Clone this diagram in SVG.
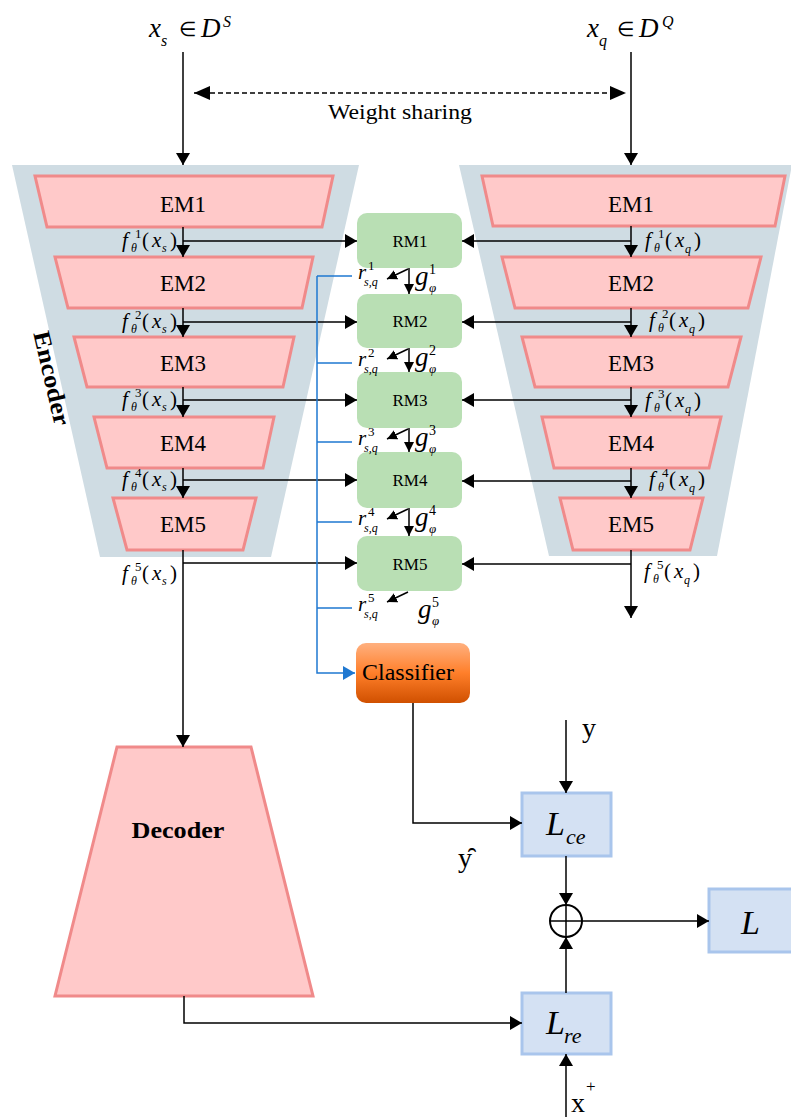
<svg xmlns="http://www.w3.org/2000/svg" width="791" height="1117" viewBox="0 0 791 1117">
<style>
text{font-family:"Liberation Serif","Times New Roman",serif;fill:#000}
.mi{font-style:italic;font-size:21px}
.mr{font-size:21px}
.sup{font-size:13px}
.subi{font-style:italic;font-size:12px}
.ti{font-style:italic;font-size:27px}
.tsub{font-style:italic;font-size:16px}
.tin{font-size:20px}
.em{font-size:23px;text-anchor:middle}
.rm{font-size:17px;text-anchor:middle}
.emb{fill:#FFC9C9;stroke:#F08A8A;stroke-width:3}
.gray{fill:#CFDCE3}
.rmb{fill:#B9DFB4}
.loss{fill:#D4E1F3;stroke:#A9C5EC;stroke-width:3}
.ln{fill:none;stroke:#000;stroke-width:1.5}
.ar{marker-end:url(#ah)}
.sa{fill:none;stroke:#000;stroke-width:1.5;marker-end:url(#ahs)}
.bl{fill:none;stroke:#1F78D1;stroke-width:1.5}
.ri{font-style:italic;font-size:21px}
.rsup{font-size:13px}
.rsub{font-style:italic;font-size:12px}
.gi{font-style:italic;font-size:27px}
.gsup{font-size:14px}
.gsub{font-style:italic;font-size:13px}
.li{font-style:italic;font-size:34px}
.lsub{font-style:italic;font-size:22px}
.big{font-size:28px}
</style>
<defs>
<marker id="ah" viewBox="0 0 12 14" refX="12" refY="7" markerWidth="12" markerHeight="14" markerUnits="userSpaceOnUse" orient="auto"><path d="M0,0L12,7L0,14z" fill="#000"/></marker>
<marker id="ahd" viewBox="0 0 16 14" refX="16" refY="7" markerWidth="16" markerHeight="14" markerUnits="userSpaceOnUse" orient="auto-start-reverse"><path d="M0,0L16,7L0,14z" fill="#000"/></marker>
<marker id="ahs" viewBox="0 0 10 10" refX="10" refY="5" markerWidth="10" markerHeight="10" markerUnits="userSpaceOnUse" orient="auto"><path d="M0,0L10,5L0,10z" fill="#000"/></marker>
<marker id="ahb" viewBox="0 0 12 14" refX="12" refY="7" markerWidth="12" markerHeight="14" markerUnits="userSpaceOnUse" orient="auto"><path d="M0,0L12,7L0,14z" fill="#1F78D1"/></marker>
<linearGradient id="cg" x1="0" y1="0" x2="0" y2="1">
<stop offset="0" stop-color="#FFB07F"/><stop offset="0.5" stop-color="#FF7F2A"/><stop offset="1" stop-color="#D05000"/>
</linearGradient>
</defs>

<!-- encoder backgrounds -->
<g id="encoder-left">
<polygon class="gray" points="12,165 359,165 271,557 100,557"/>
<text font-weight="bold" font-size="24" text-anchor="middle" textLength="96" lengthAdjust="spacingAndGlyphs" transform="translate(44,380) rotate(77)">Encoder</text>
</g>
<g id="encoder-right">
<polygon class="gray" points="459,165 791,165 791,170 717,556 549,556"/>
</g>

<!-- top labels -->
<g id="input-s">
<text class="ti" x="149" y="37">x</text>
<text class="tsub" x="161" y="46">s</text>
<text class="tin" x="179" y="36">∈</text>
<text class="ti" x="201" y="37">D</text>
<text class="tsub" x="223" y="27">S</text>
</g>
<g id="input-q">
<text class="ti" x="587" y="37">x</text>
<text class="tsub" x="599" y="46">q</text>
<text class="tin" x="617" y="36">∈</text>
<text class="ti" x="639" y="37">D</text>
<text class="tsub" x="662" y="27">Q</text>
</g>
<g id="weight-sharing">
<text x="400" y="119" font-size="22" text-anchor="middle" textLength="144" lengthAdjust="spacingAndGlyphs">Weight sharing</text>
</g>

<!-- left EMs -->
<g id="EM1-s"><polygon class="emb" points="35,176 333,176 322,227 47,227"/><text class="em" x="183" y="212">EM1</text></g>
<g id="EM2-s"><polygon class="emb" points="55,257 313,257 302,308 68,308"/><text class="em" x="183" y="291">EM2</text></g>
<g id="EM3-s"><polygon class="emb" points="74,337 294,337 283,387 87,387"/><text class="em" x="183" y="371">EM3</text></g>
<g id="EM4-s"><polygon class="emb" points="94,417 274,417 263,468 107,468"/><text class="em" x="183" y="451">EM4</text></g>
<g id="EM5-s"><polygon class="emb" points="113,498 256,498 243,550 127,550"/><text class="em" x="183" y="532">EM5</text></g>

<!-- right EMs -->
<g id="EM1-q"><polygon class="emb" points="482,176 785,176 775,226 493,226"/><text class="em" x="631" y="212">EM1</text></g>
<g id="EM2-q"><polygon class="emb" points="502,257 761,257 748,308 515,308"/><text class="em" x="631" y="291">EM2</text></g>
<g id="EM3-q"><polygon class="emb" points="522,337 741,337 728,387 535,387"/><text class="em" x="631" y="371">EM3</text></g>
<g id="EM4-q"><polygon class="emb" points="542,417 721,417 709,468 554,468"/><text class="em" x="631" y="451">EM4</text></g>
<g id="EM5-q"><polygon class="emb" points="560,498 703,498 690,550 573,550"/><text class="em" x="631" y="532">EM5</text></g>

<!-- RMs -->
<g id="RM1"><rect class="rmb" x="357" y="213" width="105" height="55" rx="10"/><text class="rm" x="410" y="247">RM1</text></g>
<g id="RM2"><rect class="rmb" x="357" y="294" width="105" height="54" rx="10"/><text class="rm" x="410" y="327">RM2</text></g>
<g id="RM3"><rect class="rmb" x="357" y="372" width="105" height="56" rx="10"/><text class="rm" x="410" y="406">RM3</text></g>
<g id="RM4"><rect class="rmb" x="357" y="452" width="105" height="56" rx="10"/><text class="rm" x="410" y="486">RM4</text></g>
<g id="RM5"><rect class="rmb" x="357" y="536" width="105" height="55" rx="10"/><text class="rm" x="410" y="570">RM5</text></g>

<!-- Classifier -->
<g id="classifier"><rect x="356" y="643" width="114" height="60" rx="10" fill="url(#cg)"/><text x="408" y="680" font-size="24" text-anchor="middle" textLength="92" lengthAdjust="spacingAndGlyphs">Classifier</text></g>

<!-- Decoder -->
<g id="decoder"><polygon class="emb" points="117,747 251,747 313,996 55,996"/><text x="178" y="838" font-size="23" font-weight="bold" text-anchor="middle" textLength="93" lengthAdjust="spacingAndGlyphs">Decoder</text></g>

<!-- Loss boxes -->
<g id="Lce"><rect class="loss" x="522" y="793" width="89" height="63"/><text class="li" x="546" y="835">L</text><text class="lsub" x="566" y="844">ce</text></g>
<g id="Lre"><rect class="loss" x="522" y="993" width="89" height="61"/><text class="li" x="546" y="1034">L</text><text class="lsub" x="564" y="1043">re</text></g>
<g id="L"><rect class="loss" x="709" y="889" width="84" height="63"/><text class="li" x="741" y="934">L</text></g>
<g id="sum"><circle cx="566" cy="921" r="16" fill="none" stroke="#000" stroke-width="2"/><path d="M550,921H582M566,905V937" stroke="#000" stroke-width="1.5"/></g>

<!-- connectors -->
<g id="connectors">
<path class="ln ar" d="M183,52V165"/>
<path class="ln ar" d="M631,52V165"/>
<path d="M194,93H626" fill="none" stroke="#000" stroke-width="1.3" stroke-dasharray="5,3" marker-start="url(#ahd)" marker-end="url(#ahd)"/>
<path class="ln ar" d="M183,227V257"/>
<path class="ln ar" d="M183,308V337"/>
<path class="ln ar" d="M183,387V417"/>
<path class="ln ar" d="M183,468V498"/>
<path class="ln ar" d="M183,550V747"/>
<path class="ln ar" d="M183,241H357"/>
<path class="ln ar" d="M183,322H357"/>
<path class="ln ar" d="M183,400H357"/>
<path class="ln ar" d="M183,480H357"/>
<path class="ln ar" d="M183,563H357"/>
<path class="ln ar" d="M631,226V257"/>
<path class="ln ar" d="M631,308V337"/>
<path class="ln ar" d="M631,387V417"/>
<path class="ln ar" d="M631,468V498"/>
<path class="ln ar" d="M631,550V618"/>
<path class="ln ar" d="M631,241H462"/>
<path class="ln ar" d="M631,322H462"/>
<path class="ln ar" d="M631,400H462"/>
<path class="ln ar" d="M631,481H462"/>
<path class="ln ar" d="M631,564H462"/>
<path class="sa" d="M408,269L387,279"/>
<path class="sa" d="M409,268V294"/>
<path class="sa" d="M408,349L387,359"/>
<path class="sa" d="M409,348V372"/>
<path class="sa" d="M408,429L387,439"/>
<path class="sa" d="M409,428V452"/>
<path class="sa" d="M408,509L387,519"/>
<path class="sa" d="M409,508V536"/>
<path class="sa" d="M408,592L387,602"/>
<path class="bl" d="M352,276H317M352,363H317M352,442H317M352,522H317M352,608H317"/>
<path class="bl" d="M317,276V673H355" marker-end="url(#ahb)"/>
<path class="ln ar" d="M413,703V823H522"/>
<path class="ln ar" d="M566,720V793"/>
<path class="ln ar" d="M566,856V905"/>
<path class="ln ar" d="M566,993V937"/>
<path class="ln ar" d="M582,921H709"/>
<path class="ln ar" d="M184,996V1023H522"/>
<path class="ln ar" d="M566,1117V1054"/>
</g>

<!-- feature labels left -->
<g id="f-labels-s">
<g transform="translate(122,247)"><text class="mi">f</text><text class="sup" x="13" y="-9">1</text><text class="subi" x="9" y="5">θ</text><text class="mr" x="20">(</text><text class="mi" x="30">x</text><text class="subi" x="40" y="5">s</text><text class="mr" x="48">)</text></g>
<g transform="translate(122,328)"><text class="mi">f</text><text class="sup" x="13" y="-9">2</text><text class="subi" x="9" y="5">θ</text><text class="mr" x="20">(</text><text class="mi" x="30">x</text><text class="subi" x="40" y="5">s</text><text class="mr" x="48">)</text></g>
<g transform="translate(122,406)"><text class="mi">f</text><text class="sup" x="13" y="-9">3</text><text class="subi" x="9" y="5">θ</text><text class="mr" x="20">(</text><text class="mi" x="30">x</text><text class="subi" x="40" y="5">s</text><text class="mr" x="48">)</text></g>
<g transform="translate(122,486)"><text class="mi">f</text><text class="sup" x="13" y="-9">4</text><text class="subi" x="9" y="5">θ</text><text class="mr" x="20">(</text><text class="mi" x="30">x</text><text class="subi" x="40" y="5">s</text><text class="mr" x="48">)</text></g>
<g transform="translate(122,580)"><text class="mi">f</text><text class="sup" x="13" y="-9">5</text><text class="subi" x="9" y="5">θ</text><text class="mr" x="20">(</text><text class="mi" x="30">x</text><text class="subi" x="40" y="5">s</text><text class="mr" x="48">)</text></g>
</g>
<!-- feature labels right -->
<g id="f-labels-q">
<g transform="translate(645,247)"><text class="mi">f</text><text class="sup" x="13" y="-9">1</text><text class="subi" x="9" y="5">θ</text><text class="mr" x="20">(</text><text class="mi" x="30">x</text><text class="subi" x="40" y="6">q</text><text class="mr" x="49">)</text></g>
<g transform="translate(649,327)"><text class="mi">f</text><text class="sup" x="13" y="-9">2</text><text class="subi" x="9" y="5">θ</text><text class="mr" x="20">(</text><text class="mi" x="30">x</text><text class="subi" x="40" y="6">q</text><text class="mr" x="49">)</text></g>
<g transform="translate(645,407)"><text class="mi">f</text><text class="sup" x="13" y="-9">3</text><text class="subi" x="9" y="5">θ</text><text class="mr" x="20">(</text><text class="mi" x="30">x</text><text class="subi" x="40" y="6">q</text><text class="mr" x="49">)</text></g>
<g transform="translate(649,486)"><text class="mi">f</text><text class="sup" x="13" y="-9">4</text><text class="subi" x="9" y="5">θ</text><text class="mr" x="20">(</text><text class="mi" x="30">x</text><text class="subi" x="40" y="6">q</text><text class="mr" x="49">)</text></g>
<g transform="translate(644,578)"><text class="mi">f</text><text class="sup" x="13" y="-9">5</text><text class="subi" x="9" y="5">θ</text><text class="mr" x="20">(</text><text class="mi" x="30">x</text><text class="subi" x="40" y="6">q</text><text class="mr" x="49">)</text></g>
</g>
<!-- r and g labels -->
<g id="rg-labels">
<g transform="translate(358,279)"><text class="ri">r</text><text class="rsup" x="10" y="-9">1</text><text class="rsub" x="6" y="7">s,q</text></g>
<g transform="translate(358,366)"><text class="ri">r</text><text class="rsup" x="10" y="-9">2</text><text class="rsub" x="6" y="7">s,q</text></g>
<g transform="translate(358,445)"><text class="ri">r</text><text class="rsup" x="10" y="-9">3</text><text class="rsub" x="6" y="7">s,q</text></g>
<g transform="translate(358,525)"><text class="ri">r</text><text class="rsup" x="10" y="-9">4</text><text class="rsub" x="6" y="7">s,q</text></g>
<g transform="translate(358,611)"><text class="ri">r</text><text class="rsup" x="10" y="-9">5</text><text class="rsub" x="6" y="7">s,q</text></g>
<g transform="translate(415,285)"><text class="gi">g</text><text class="gsup" x="14" y="-11">1</text><text class="gsub" x="14" y="7">φ</text></g>
<g transform="translate(415,366)"><text class="gi">g</text><text class="gsup" x="14" y="-11">2</text><text class="gsub" x="14" y="7">φ</text></g>
<g transform="translate(415,446)"><text class="gi">g</text><text class="gsup" x="14" y="-11">3</text><text class="gsub" x="14" y="7">φ</text></g>
<g transform="translate(415,526)"><text class="gi">g</text><text class="gsup" x="14" y="-11">4</text><text class="gsub" x="14" y="7">φ</text></g>
<g transform="translate(418,618)"><text class="gi">g</text><text class="gsup" x="14" y="-11">5</text><text class="gsub" x="14" y="7">φ</text></g>
</g>
<!-- y labels -->
<g id="y-labels">
<text class="big" x="582" y="737">y</text>
<text class="big" x="458" y="867">y&#x311;</text>
<text class="big" x="571" y="1112">x</text>
<text x="586" y="1092" font-size="17">+</text>
</g>
</svg>
